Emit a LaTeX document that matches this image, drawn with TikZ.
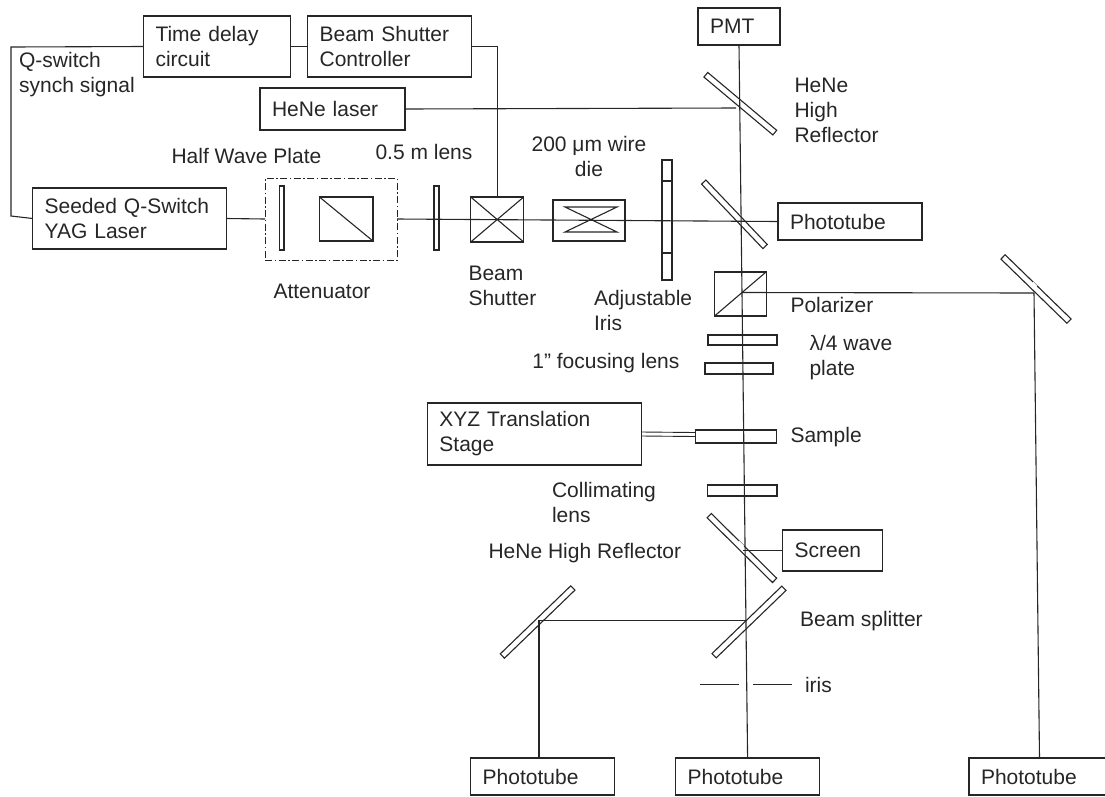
\documentclass[tikz,border=0pt]{standalone}
\usepackage{fontspec}
\setmainfont{Liberation Sans}

\tikzset{
  box/.style 2 args={draw,anchor=north west,align=left,inner xsep=12pt,inner ysep=0pt,outer sep=0pt,text width=#1pt,minimum height=#2pt},
  plate/.style 2 args={draw,inner sep=0pt,outer sep=0pt,minimum width=#1pt,minimum height=#2pt},
  mirror/.style={draw,inner sep=0pt,outer sep=0pt,minimum height=6pt,minimum width=#1pt},
  lbl/.style={anchor=west,align=left,inner sep=0pt}
}

\begin{document}
\begin{tikzpicture}[x=1pt,y=-1pt,line width=1.1pt,color=black!85,font=\fontsize{21}{25}\selectfont]
\useasboundingbox (0,0) rectangle (1105,796);
% boxes
\node[box={123}{61}] (delay) at (143.5,16) {Time delay\\circuit};
\node[box={140}{61}] (bsc) at (307.6,16) {Beam Shutter\\Controller};
\node[box={121}{42}] (hene) at (260,88) {HeNe laser};
\node[box={170}{61}] (yag) at (32.6,188) {Seeded Q-Switch\\YAG Laser};
\node[box={58}{37}] (pmt) at (698,8) {PMT};
\node[box={120}{37}] (tubeT) at (778,203) {Phototube};
\node[box={190}{62}] (stage) at (427.4,403) {XYZ Translation\\Stage};
\node[box={76}{41}] (screen) at (782.6,530) {Screen};
\node[box={120}{37}] (tubeL) at (470.7,758) {Phototube};
\node[box={120}{37}] (tubeM) at (675.6,758) {Phototube};
\node[box={117}{37}] (tubeR) at (969,758) {Phototube};
% optics on the first beam line
\node[plate={132}{82},line width=0.9pt,dash pattern=on 7pt off 2.5pt on 1.5pt off 2.5pt] (atten) at (331,219) {};
\node[plate={4.5}{64}] (halfwave) at (281.7,218) {};
\node[plate={53.5}{44}] (cube) at (346.2,219) {};
\node[plate={5}{64}] (lens) at (436.5,218) {};
\node[plate={53}{45}] (shutter) at (497.2,219.5) {};
\node[plate={72}{41}] (die) at (589,220.5) {};
\node[plate={52}{25},draw=none] (hourglass) at (591,219.5) {};
\node[plate={10}{120}] (iris) at (667,220) {};
\draw (cube.north west)--(cube.south east);
\draw (shutter.north west)--(shutter.south east) (shutter.north east)--(shutter.south west);
\draw (hourglass.north west)--(hourglass.north east)--(hourglass.south west)--(hourglass.south east)--cycle;
\foreach \y in {181,253}{\draw (662,\y)--(672,\y);}
% optics on the main beam
\node[mirror=90,rotate=-40] (mirrorA) at (740.3,103.7) {};
\node[mirror=89,rotate=-46.4] (mirrorB) at (734.4,214.3) {};
\node[mirror=92,rotate=-44.2] (mirrorR) at (1036,289) {};
\node[mirror=92,rotate=-44.7] (mirrorC) at (741.9,548) {};
\node[mirror=97,rotate=44] (split) at (749,622) {};
\node[mirror=98,rotate=44] (mirrorL) at (537.6,622) {};
\node[plate={51.5}{44}] (polar) at (740.3,294) {};
\node[plate={69}{10}] (wave) at (742.5,340) {};
\node[plate={68}{11}] (focus) at (739,368.5) {};
\node[plate={81}{13}] (sample) at (736.4,436.5) {};
\node[plate={69.5}{11}] (collim) at (742.2,490.5) {};
\draw (polar.south west)--(polar.north east);
\draw[white,line width=2pt] (1032.5,282.5)--(1036.5,286.5) (738.5,541.5)--(743.5,546.5);
\draw (699.6,684.7)--(739,684.7) (753,684.7)--(792,684.7);
% hit points
\coordinate (railtop) at (11,47);
\coordinate (railbot) at (11,216);
\coordinate (heneend) at (736,108);
\coordinate (polarhit) at (742,292.5);
\coordinate (rhit) at (1034,293);
\coordinate (screenhit) at (743,550.5);
\coordinate (splithit) at (746,620.5);
\coordinate (lhit) at (539,620.5);
% beams and wires
\draw (delay.west)--(railtop)--(railbot)--(yag.west);
\draw (delay.east)--(bsc.west);
\draw (bsc.east)-|(shutter.north);
\draw (hene.east)--(heneend);
\draw (yag.east)--(atten.west);
\draw (atten.east)--(tubeT.west);
\draw (pmt.south)--(tubeM.north);
\draw (polarhit)--(rhit)--(tubeR.north);
\draw (screen.west)--(screenhit);
\draw (splithit)--(lhit)--(lhit|-tubeL.north);
\draw[line width=0.9pt] ([yshift=2pt]stage.east)--([yshift=4pt]sample.west) ([yshift=-2pt]stage.east)--([yshift=0pt]sample.west);
% labels
\node[lbl] (qswitch) at (18.6,74.5) {Q-switch\\synch signal};
\node[lbl] (halflbl) at (171,156) {Half Wave Plate};
\node[lbl] (lenslbl) at (375,152) {0.5 m lens};
\node[lbl] (attenlbl) at (273,291) {Attenuator};
\node[lbl] (shutterlbl) at (468,285.5) {Beam\\Shutter};
\node[lbl,align=center,anchor=center] (dielbl) at (589,156.5) {200 μm wire\\die};
\node[lbl] (irislbl) at (593.5,310.5) {Adjustable\\Iris};
\node[lbl] (hrlbl) at (794,110.5) {HeNe\\High\\Reflector};
\node[lbl] (polarlbl) at (790,305) {Polarizer};
\node[lbl] (wavelbl) at (809,358) {λ/4 wave\\plate};
\node[lbl,anchor=east] (focuslbl) at (680,363) {1” focusing lens};
\node[lbl] (samplelbl) at (790,437) {Sample};
\node[lbl] (collimlbl) at (551.5,502.5) {Collimating\\lens};
\node[lbl] (hr2lbl) at (488,553) {HeNe High Reflector};
\node[lbl] (splitlbl) at (799.6,621) {Beam splitter};
\node[lbl] (irisslit) at (804.5,684.7) {iris};
\end{tikzpicture}
\end{document}
